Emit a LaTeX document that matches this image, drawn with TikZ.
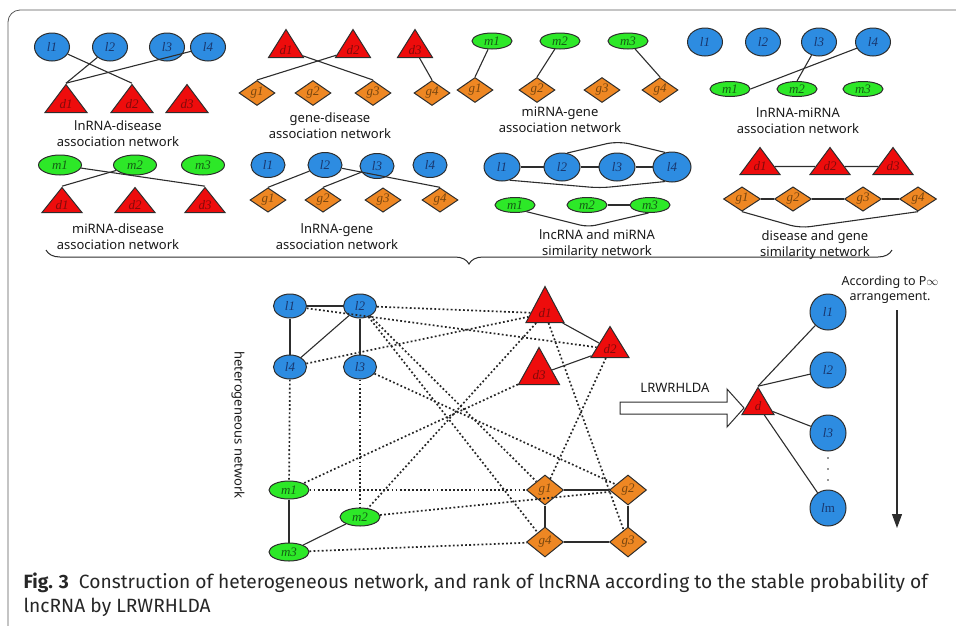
\documentclass[tikz,border=0pt]{standalone}
\usepackage{fontspec}
\setmainfont{Liberation Serif}
\newfontfamily\netfont{Noto Sans}
\newfontfamily\capfont{Fira Sans}
\usepackage{tikz}
\usetikzlibrary{shapes.geometric,decorations.pathreplacing,arrows.meta}
\definecolor{lncblue}{RGB}{45,140,225}
\definecolor{mirgreen}{RGB}{45,232,40}
\definecolor{disred}{RGB}{238,12,12}
\definecolor{genorange}{RGB}{238,135,35}
\definecolor{edgegray}{RGB}{45,45,45}
\definecolor{lnctext}{RGB}{25,55,110}
\definecolor{mirtext}{RGB}{20,95,20}
\definecolor{distext}{RGB}{130,10,10}
\definecolor{gentext}{RGB}{120,70,15}
\newcommand{\nodefont}{\fontsize{13}{13}\selectfont\itshape}

\begin{document}
\begin{tikzpicture}[x=1pt,y=-1pt,
	lnc/.style={ellipse,draw=edgegray,fill=lncblue,line width=1pt,inner sep=0pt,minimum width=35pt,minimum height=28pt,text=lnctext,font=\nodefont},
	mir/.style={ellipse,draw=edgegray,fill=mirgreen,line width=1pt,inner sep=0pt,minimum width=40pt,minimum height=16pt,text=mirtext,font=\nodefont},
	dis/.style={isosceles triangle,isosceles triangle stretches,shape border rotate=90,anchor=lower side,draw=edgegray,fill=disred,line width=1pt,inner sep=0pt,minimum width=40pt,minimum height=28pt,text=distext,font=\nodefont},
	gen/.style={diamond,draw=edgegray,fill=genorange,line width=1pt,inner sep=0pt,minimum width=36pt,minimum height=25pt,text=gentext,font=\nodefont},
	link/.style={draw=edgegray,line width=1.1pt},
	dotlink/.style={link,draw=black!85,line width=1.7pt,dash pattern=on 1.8pt off 2.3pt},
	netlabel/.style={align=center,font=\netfont\fontsize{13}{16}\selectfont,text=black!90}]
	\useasboundingbox (0,0) rectangle (956,625);
	\draw[edgegray!80,line width=0.8pt,rounded corners=12] (8,640) -- (8,10) -- (970,10);

	\begin{scope}[name prefix=ld-]
		\node[lnc] (l1) at (52,47) {l1};
		\node[lnc] (l2) at (110,47) {l2};
		\node[lnc] (l3) at (167,47) {l3};
		\node[lnc] (l4) at (208,47) {l4};
		\node[dis,minimum width=42pt] (d1) at (66,113) {d1};
		\node[dis,minimum width=42pt] (d2) at (132,113) {d2};
		\node[dis,minimum width=42pt] (d3) at (187,113) {d3};
		\draw[link] (l1) -- (d2.apex);
		\draw[link] (l2) -- (d1.apex);
		\draw[link] (l4) -- (d1.apex);
		\node[netlabel] (title) at (118,134) {lnRNA-disease\\association network};
	\end{scope}

	\begin{scope}[name prefix=gd-]
		\node[dis,minimum width=35pt] (d1) at (286,58) {d1};
		\node[dis,minimum width=35pt] (d2) at (353,58) {d2};
		\node[dis,minimum width=35pt] (d3) at (415,58) {d3};
		\node[gen] (g1) at (257,93) {g1};
		\node[gen] (g2) at (313,93) {g2};
		\node[gen] (g3) at (373,93) {g3};
		\node[gen] (g4) at (432,93) {g4};
		\draw[link] (d1) -- (g3.north);
		\draw[link] (d2) -- (g1.north);
		\draw[link] (d3) -- (g4.north);
		\node[netlabel] (title) at (330,126) {gene-disease\\association network};
	\end{scope}

	\begin{scope}[name prefix=mg-]
		\node[mir] (m1) at (492,41) {m1};
		\node[mir] (m2) at (560,41) {m2};
		\node[mir] (m3) at (628,41) {m3};
		\node[gen] (g1) at (475,90) {g1};
		\node[gen] (g2) at (537,90) {g2};
		\node[gen] (g3) at (602,90) {g3};
		\node[gen] (g4) at (660,90) {g4};
		\draw[link] (m1) -- (g1.north);
		\draw[link] (m2) -- (g2.north);
		\draw[link] (m3) -- (g4.north);
		\node[netlabel] (title) at (560,120) {miRNA-gene\\association network};
	\end{scope}

	\begin{scope}[name prefix=lm-]
		\node[lnc] (l1) at (705,42) {l1};
		\node[lnc] (l2) at (763,42) {l2};
		\node[lnc] (l3) at (819,42) {l3};
		\node[lnc] (l4) at (873,42) {l4};
		\node[mir,minimum height=15pt] (m1) at (730,89) {m1};
		\node[mir,minimum height=15pt] (m2) at (797,89) {m2};
		\node[mir,minimum height=15pt] (m3) at (863,89) {m3};
		\draw[link] (l3) -- (m2.north);
		\draw[link] (l4) -- (m1.east);
		\node[netlabel] (title) at (798,121) {lnRNA-miRNA\\association network};
	\end{scope}

	\begin{scope}[name prefix=md-]
		\node[mir,minimum width=43pt,minimum height=20pt] (m1) at (60,165) {m1};
		\node[mir,minimum width=43pt,minimum height=20pt] (m2) at (135,165) {m2};
		\node[mir,minimum width=43pt,minimum height=20pt] (m3) at (203,165) {m3};
		\node[dis,minimum height=25pt] (d1) at (62,213) {d1};
		\node[dis,minimum height=25pt] (d2) at (135,213) {d2};
		\node[dis,minimum height=25pt] (d3) at (205,213) {d3};
		\draw[link] (m1) -- (d3.apex);
		\draw[link] (m2) -- (d1.apex);
		\node[netlabel] (title) at (118,237) {miRNA-disease\\association network};
	\end{scope}

	\begin{scope}[name prefix=lg-]
		\node[lnc,minimum width=34pt,minimum height=25pt] (l1) at (268,165) {l1};
		\node[lnc,minimum width=34pt,minimum height=25pt] (l2) at (325,165) {l2};
		\node[lnc,minimum width=34pt,minimum height=25pt] (l3) at (377,166) {l3};
		\node[lnc,minimum width=34pt,minimum height=25pt] (l4) at (430,165) {l4};
		\node[gen,minimum height=24pt] (g1) at (268,200) {g1};
		\node[gen,minimum height=24pt] (g2) at (323,200) {g2};
		\node[gen,minimum height=24pt] (g3) at (383,200) {g3};
		\node[gen,minimum height=24pt] (g4) at (440,200) {g4};
		\draw[link] (l2) -- (g1.north);
		\draw[link] (l2) -- (g4.north);
		\draw[link] (l3) -- (g2.north);
		\node[netlabel] (title) at (337,237) {lnRNA-gene\\association network};
	\end{scope}

	\begin{scope}[name prefix=ls-]
		\node[lnc,minimum width=36pt] (l1) at (502,167) {l1};
		\node[lnc,minimum width=36pt] (l2) at (562,167) {l2};
		\node[lnc,minimum width=36pt] (l3) at (617,167) {l3};
		\node[lnc,minimum width=38pt,minimum height=30pt] (l4) at (672,167) {l4};
		\node[mir,minimum height=15pt] (m1) at (515,205) {m1};
		\node[mir,minimum height=15pt] (m2) at (587,205) {m2};
		\node[mir,minimum height=15pt] (m3) at (650,205) {m3};
		\draw[link] (l1) -- (l2);
		\draw[link] (l2) -- (l3);
		\draw[link] (l3) -- (l4);
		\draw[link,rounded corners=12] (l2.70) -- (618,141) -- (l4.115);
		\draw[link,rounded corners=10] (l1.-60) -- (600,188) -- (l4.-115);
		\draw[link] (m2) -- (m3);
		\draw[link,rounded corners=8] (m1.-30) -- (588,227) -- (m3.-100);
		\node[netlabel] (title) at (597,244) {lncRNA and miRNA\\similarity network};
	\end{scope}

	\begin{scope}[name prefix=dg-]
		\node[dis,minimum height=27pt] (d1) at (760,175) {d1};
		\node[dis,minimum height=27pt] (d2) at (830,175) {d2};
		\node[dis,minimum height=27pt] (d3) at (893,175) {d3};
		\node[gen,minimum width=37pt,minimum height=24pt] (g1) at (742,199) {g1};
		\node[gen,minimum width=37pt,minimum height=24pt] (g2) at (793,199) {g2};
		\node[gen,minimum width=37pt,minimum height=24pt] (g3) at (863,199) {g3};
		\node[gen,minimum width=37pt,minimum height=24pt] (g4) at (918,199) {g4};
		\draw[link] (d1) -- (d2);
		\draw[link] (d2) -- (d3);
		\draw[link] (g1) -- (g2);
		\draw[link] (g2) -- (g3);
		\draw[link] (g3) -- (g4);
		\draw[link,rounded corners=10] (g1.south) -- (800,228) -- (g4.south);
		\node[netlabel] (title) at (815,245) {disease and gene\\similarity network};
	\end{scope}

	\draw[link,line width=1pt,decorate,decoration={brace,mirror,amplitude=14pt}] (46,250) -- (892,250);

	\begin{scope}[name prefix=hn-]
		\node[lnc,minimum width=33pt,minimum height=24pt] (l1) at (290,306) {l1};
		\node[lnc,minimum width=33pt,minimum height=24pt] (l2) at (360,306) {l2};
		\node[lnc,minimum width=33pt,minimum height=24pt] (l3) at (360,367) {l3};
		\node[lnc,minimum width=33pt,minimum height=24pt] (l4) at (290,367) {l4};
		\node[dis,minimum width=38pt,minimum height=36pt] (d1) at (545,323) {d1};
		\node[dis,minimum width=38pt,minimum height=31pt] (d2) at (610,358) {d2};
		\node[dis,minimum width=41pt,minimum height=37pt] (d3) at (539,385) {d3};
		\node[mir,minimum height=18pt] (m1) at (289,490) {m1};
		\node[mir,minimum height=18pt] (m2) at (360,517) {m2};
		\node[mir,minimum height=18pt] (m3) at (289,552) {m3};
		\node[gen,minimum width=37pt,minimum height=30pt] (g1) at (545,490) {g1};
		\node[gen,minimum width=37pt,minimum height=30pt] (g2) at (628,490) {g2};
		\node[gen,minimum width=37pt,minimum height=30pt] (g3) at (628,542) {g3};
		\node[gen,minimum width=37pt,minimum height=30pt] (g4) at (545,542) {g4};
		\draw[dotlink] (l2) -- (d1);
		\draw[dotlink] (l1) -- (d2);
		\draw[dotlink] (l4) -- (d1);
		\draw[dotlink] (l3) -- (g2);
		\draw[dotlink] (l2) -- (g1);
		\draw[dotlink] (l2) -- (g4);
		\draw[dotlink] (d1) -- (m2);
		\draw[dotlink] (d3) -- (m1);
		\draw[dotlink] (d1) -- (g3);
		\draw[dotlink] (d2) -- (g1);
		\draw[dotlink] (l4) -- (m1);
		\draw[dotlink] (l3) -- (m2);
		\draw[dotlink] (m1) -- (g1);
		\draw[dotlink] (m2) -- (g2);
		\draw[dotlink] (m3) -- (g4);
		\draw[link] (l1) -- (l2);
		\draw[link] (l1) -- (l4);
		\draw[link] (l2) -- (l3);
		\draw[link] (l4) -- (l2);
		\draw[link] (d1) -- (d2);
		\draw[link] (d2) -- (d3);
		\draw[link] (m1) -- (m3);
		\draw[link] (m3) -- (m2);
		\draw[link] (g1) -- (g2);
		\draw[link] (g1) -- (g4);
		\draw[link] (g4) -- (g3);
		\draw[link] (g2) -- (g3);
		\node[netlabel,rotate=-90] (title) at (238,425) {heterogeneous network};
	\end{scope}

	\begin{scope}[name prefix=rk-]
		\draw[link,fill=white,line width=1pt] (620,402) -- (727,402) -- (727,389) -- (744,408) -- (727,427) -- (727,414) -- (620,414) -- cycle;
		\node[netlabel] (method) at (675,388) {LRWRHLDA};
		\node[dis,minimum width=32pt,minimum height=27pt] (d) at (758,415) {d};
		\node[lnc,circle,minimum size=36pt] (l1) at (828,312) {l1};
		\node[lnc,circle,minimum size=36pt] (l2) at (828,370) {l2};
		\node[lnc,circle,minimum size=36pt] (l3) at (828,433) {l3};
		\node[lnc,circle,minimum size=36pt] (lm) at (828,508) {l\textup{m}};
		\draw[link] (d.apex) -- (l1);
		\draw[link] (d.apex) -- (l2);
		\draw[link] (d) -- (l3);
		\draw[link] (d) -- (lm);
		\fill[edgegray] (828,458) circle (0.8pt) (828,469) circle (0.8pt) (828,480) circle (0.8pt);
		\coordinate (top) at (897,310);
		\coordinate (bottom) at (897,528);
		\draw[link,-{Triangle[length=14pt,width=10pt]}] (top) -- (bottom);
		\node[netlabel,font=\netfont\fontsize{12.5}{15}\selectfont] (order) at (890,290) {According to P$\infty$\\arrangement.};
	\end{scope}

	\node[anchor=base west,font=\capfont\fontsize{19.2}{22}\selectfont,text=black!85] (cap1) at (20,588) {\textbf{Fig. 3}\hspace{10pt}Construction of heterogeneous network, and rank of lncRNA according to the stable probability of};
	\node[anchor=base west,font=\capfont\fontsize{19.2}{22}\selectfont,text=black!85] (cap2) at (20,612) {lncRNA by LRWRHLDA};
\end{tikzpicture}
\end{document}
